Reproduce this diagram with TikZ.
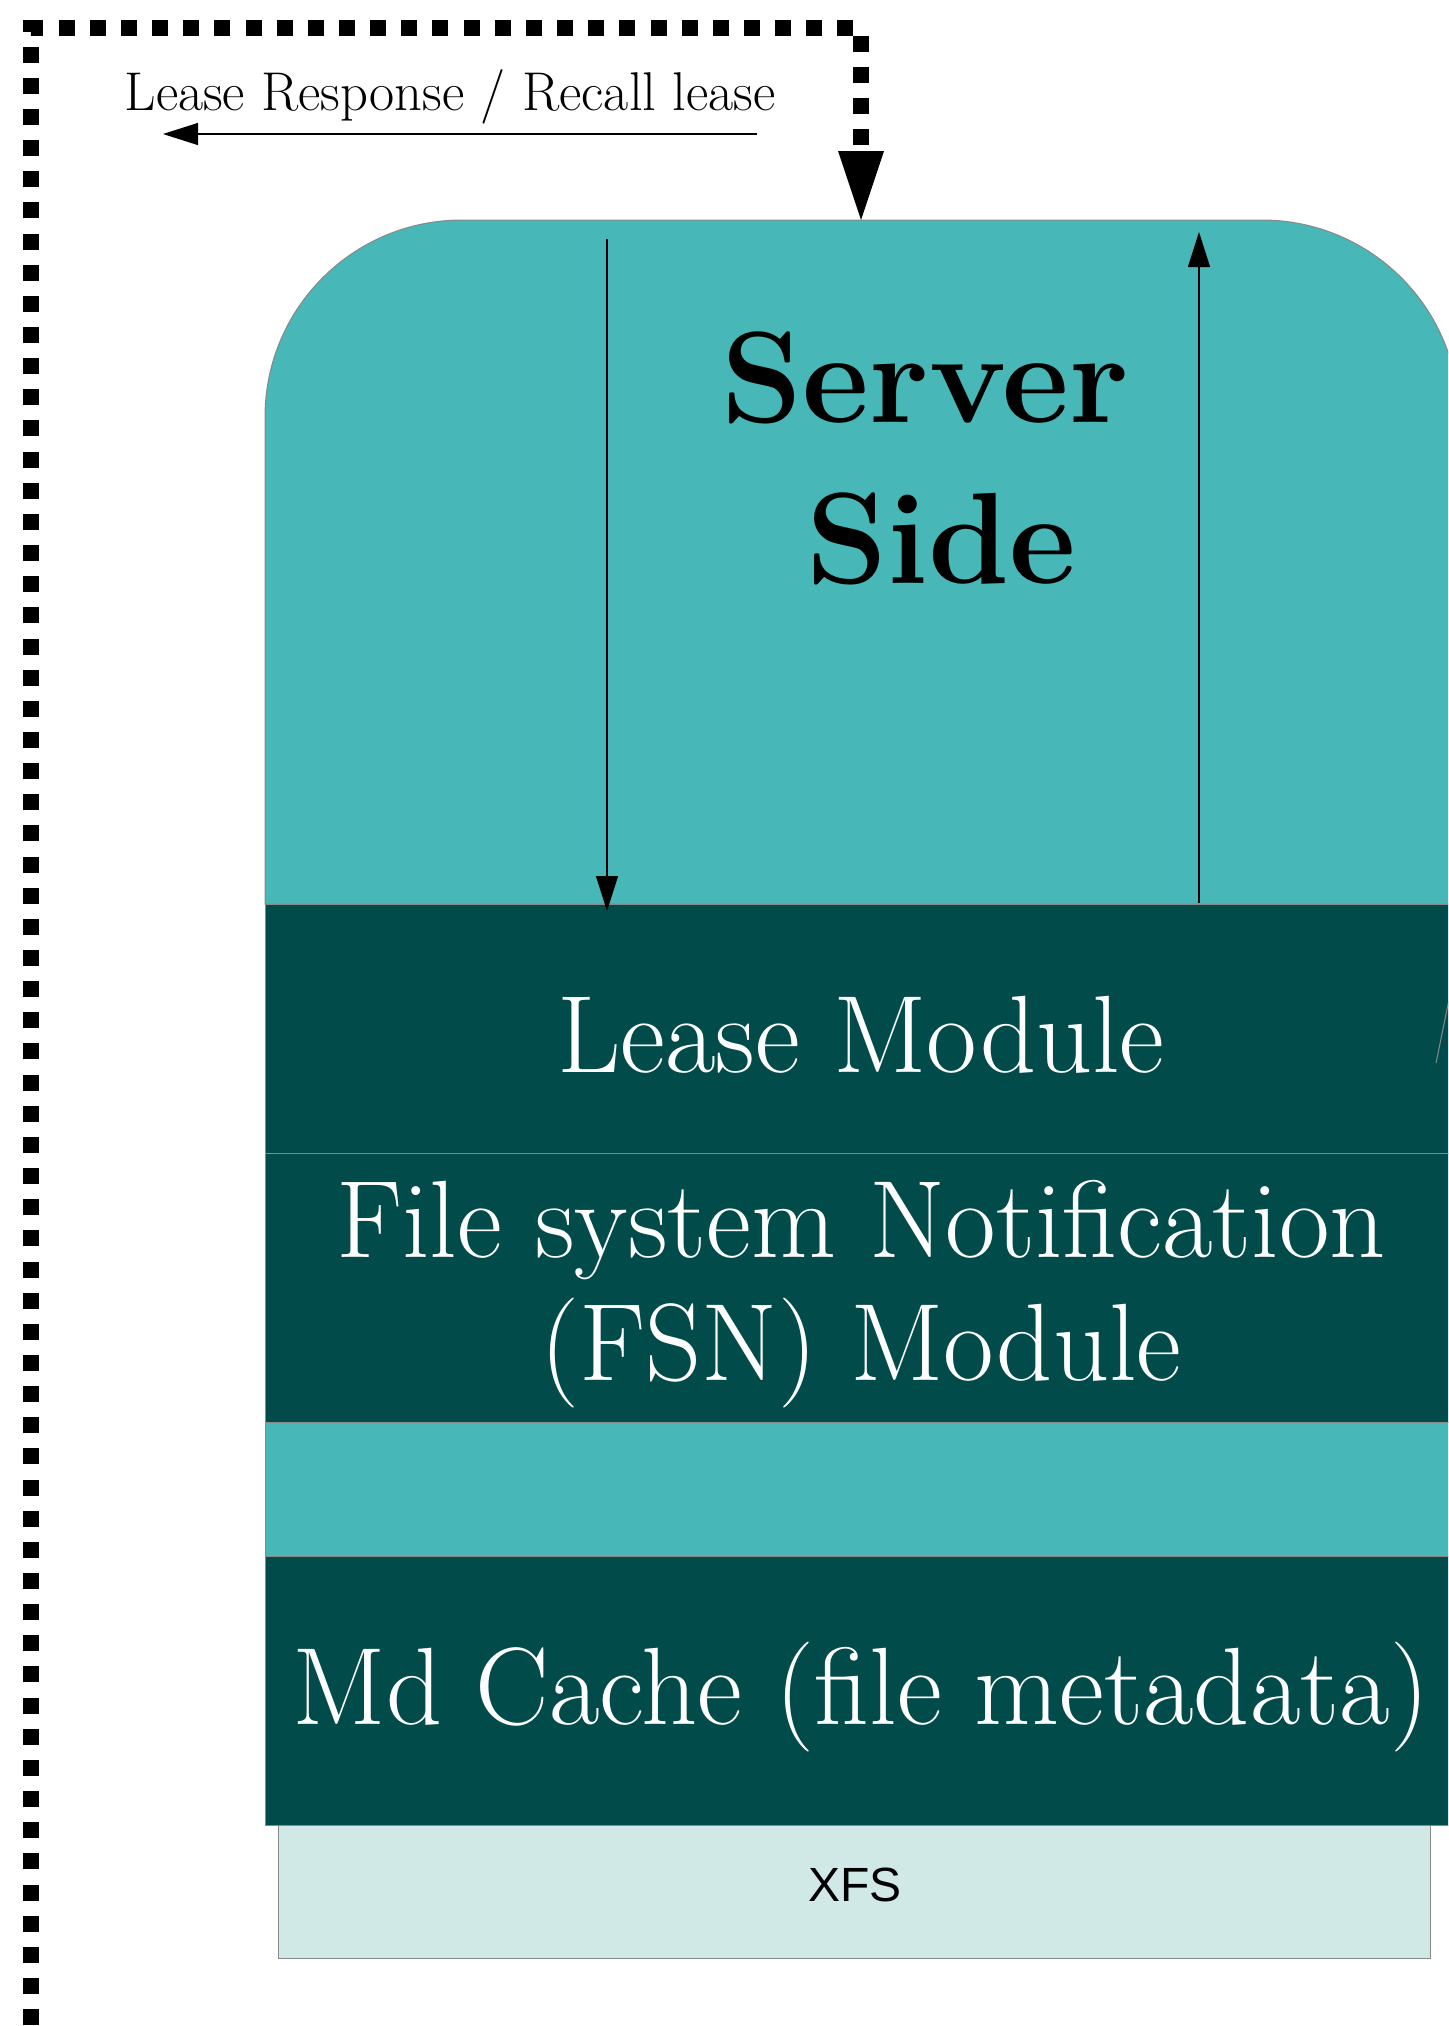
\documentclass[tikz,border=0pt]{standalone}
\usepackage{fontspec}
\newfontfamily\xfsfont{Liberation Sans}
\usetikzlibrary{arrows.meta}

\definecolor{srvteal}{RGB}{71,183,183}
\definecolor{moddark}{RGB}{2,75,75}
\definecolor{fsbase}{RGB}{208,232,230}
\definecolor{edgegray}{RGB}{136,136,136}

\tikzset{
  layer/.style={rectangle, draw=edgegray, line width=0.5pt, inner sep=0pt, anchor=north west},
  modtext/.style={text=white, font=\fontsize{55}{61.5}\selectfont, inner sep=0pt, anchor=base, align=center},
  thinarrow/.style={draw=black, line width=0.6pt, -{Triangle[length=17.5pt,width=11pt]}},
  dashlink/.style={draw=black, line width=8pt, dash pattern=on 8pt off 7.575pt, dash phase=13.7pt,
                   -{Triangle[length=34.5pt,width=23pt,line width=0pt]}},
}

\begin{document}
\begin{tikzpicture}[x=0.5pt,y=-0.5pt]
\useasboundingbox (0,0) rectangle (1448,2026);
\clip (0,0) rectangle (1448,2026);

% server body with rounded top corners
\path[fill=srvteal, draw=edgegray, line width=0.5pt]
  (265,904) -- (265,417)
  .. controls (265,308.2) and (353.2,220) .. (462,220)
  -- (1262,220)
  .. controls (1370.8,220) and (1459,308.2) .. (1459,417)
  -- (1459,904) -- cycle;
\coordinate (srvtop) at (861,220);

% module layers
\node[layer, fill=moddark, minimum width=602.5pt, minimum height=124.5pt] (lease) at (265,904) {};
\node[layer, fill=moddark, minimum width=602.5pt, minimum height=134.5pt] (fsn) at (265,1153) {};
\node[layer, fill=srvteal, minimum width=602.5pt, minimum height=67pt] (band) at (265,1422) {};
\node[layer, fill=moddark, minimum width=602.5pt, minimum height=134.5pt] (mdc) at (265,1556) {};
\node[layer, fill=fsbase, minimum width=576pt, minimum height=66.5pt] (xfs) at (278,1825) {};

% edge of a neighbouring shape
\draw[edgegray, line width=0.5pt] (1436,1063) -- (1452,985);

% request / reply arrows inside the server
\coordinate (reqtop) at (607,239);
\coordinate (reqend) at (607,911);
\coordinate (repstart) at (1199,903);
\coordinate (reptop) at (1199,232);
\draw[thinarrow] (reqtop) -- (reqend);
\draw[thinarrow] (repstart) -- (reptop);

% lease response arrow and its label
\coordinate (respstart) at (757,134);
\coordinate (respend) at (163,134);
\draw[thinarrow] (respstart) -- (respend);
\node[anchor=base, inner sep=0pt, font=\fontsize{27.3}{32}\selectfont] (resplabel) at (450,110)
  {Lease Response / Recall lease};

% dashed lease loop coming into the server
\coordinate (loopstart) at (31,2060);
\coordinate (looptop) at (31,28);
\coordinate (loopturn) at (861,28);
\draw[dashlink] (loopstart) -- (looptop) -- (loopturn) -- (srvtop);

% texts (base anchor of a two-line node sits on its last line)
\node[anchor=base, inner sep=0pt, align=center, font=\fontsize{65}{80.5}\selectfont\bfseries] (title) at (925,583)
  {Server\\\hspace*{16pt}Side};
\node[modtext] (leasetext) at (861,1072) {Lease Module};
\node[modtext] (fsntext) at (861,1380) {File system Notification\\(FSN) Module};
\node[modtext] (mdctext) at (861,1724) {Md Cache (file metadata)};
\node[anchor=base, inner sep=0pt, font=\xfsfont\fontsize{24}{29}\selectfont] (xfstext) at (855,1901) {XFS};
\end{tikzpicture}
\end{document}
